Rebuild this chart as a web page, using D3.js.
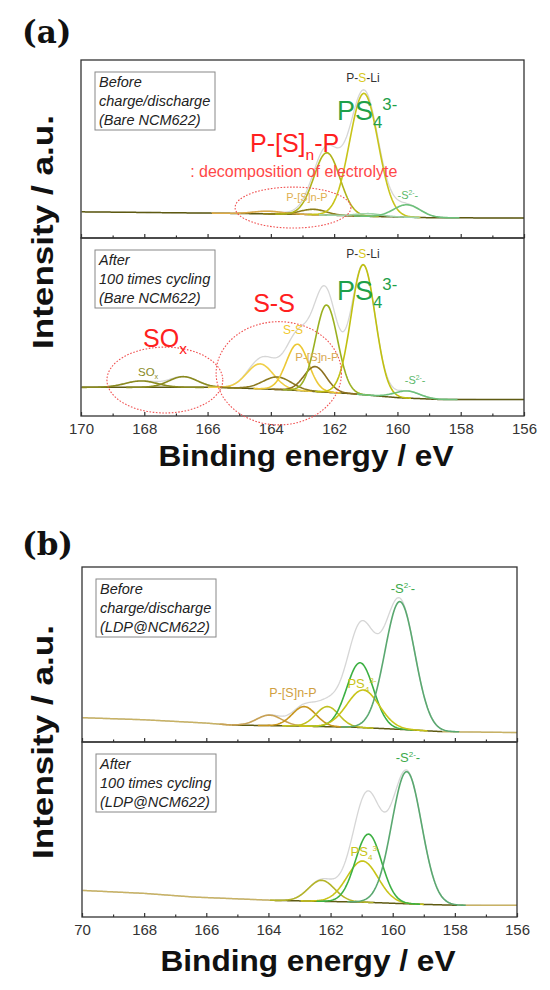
<!DOCTYPE html>
<html lang="en">
<head>
<meta charset="UTF-8">
<script src="https://d3js.org/d3.v7.min.js"></script>
<title>S 2p XPS</title>
<style>
  body { margin: 0; background: #fff; }
  text { font-family: "Liberation Sans", Arial, sans-serif; }
</style>
</head>
<body>
<script>

// binding energy ticks
var majorTicks = [170, 168, 166, 164, 162, 160, 158, 156];
var minorTicks = [169, 167, 165, 163, 161, 159, 157];
var tickLabelsA = ["170", "168", "166", "164", "162", "160", "158", "156"];
var tickLabelsB = ["70", "168", "166", "164", "162", "160", "158", "156"];

// background lines: [BE, intensity]
var bgA1 = [[170, 0.147], [166, 0.14], [163, 0.133], [161, 0.122], [159, 0.114], [156, 0.112]];
var bgA2 = [[170, 0.161], [165.6, 0.161], [163.5, 0.147], [161.5, 0.126], [160, 0.103], [158.7, 0.093], [156, 0.092]];
var bgB1 = [[170, 0.139], [168, 0.127], [166, 0.108], [165.2, 0.097], [163, 0.091], [161.2, 0.084], [159.5, 0.07], [158.4, 0.059], [156, 0.054]];
var bgB2 = [[170, 0.152], [168, 0.135], [166.4, 0.114], [163.8, 0.095], [161, 0.085], [159, 0.072], [157.9, 0.067], [156, 0.067]];

// fitted range of the background
var fitA1 = [170, 156];
var fitA2 = [170, 156];
var fitB1 = [165.2, 158.4];
var fitB2 = [163.8, 157.9];

// fitted components: [centre BE, height above background, sigma]
var peaksA1 = [[164.1, 0.015, 0.45], [162.65, 0.03, 0.4], [162.23, 0.35, 0.41], [161.06, 0.69, 0.45], [160.9, 0.015, 0.4], [159.7, 0.07, 0.42]];
var peaksA2 = [[168.1, 0.036, 0.5], [166.77, 0.06, 0.45], [164.34, 0.14, 0.42], [163.8, 0.07, 0.45], [163.16, 0.26, 0.35], [162.6, 0.14, 0.35], [162.24, 0.49, 0.35], [161.08, 0.73, 0.38], [159.7, 0.04, 0.4]];
var peaksB1 = [[163.97, 0.06, 0.4], [162.85, 0.112, 0.38], [162.1, 0.115, 0.37], [161.05, 0.37, 0.43], [160.95, 0.215, 0.52], [159.77, 0.73, 0.48]];
var peaksB2 = [[162.29, 0.12, 0.42], [160.97, 0.235, 0.5], [160.78, 0.39, 0.42], [159.55, 0.755, 0.48]];

// sample notes
var notesA1 = ["Before", "charge/discharge", "(Bare NCM622)"];
var notesA2 = ["After", "100 times cycling", "(Bare NCM622)"];
var notesB1 = ["Before", "charge/discharge", "(LDP@NCM622)"];
var notesB2 = ["After", "100 times cycling", "(LDP@NCM622)"];

// colours of components (same order as peaks)
var coloursA1 = ["#dcaa48", "#8c7d1a", "#b0b31a", "#c8c41a", "#9fd3a8", "#6cc07a"];
var coloursA2 = ["#8a8a1e", "#8a8a1e", "#f0cf48", "#8c7a20", "#ecc835", "#8c7020", "#9ab020", "#c0c010", "#6cc07a"];
var coloursB1 = ["#c9a255", "#c8961e", "#c0c020", "#3cb043", "#c8c418", "#5aa870"];
var coloursB2 = ["#b4b428", "#c8c418", "#3cb043", "#5aa870"];

var RED = "#ff2020";
var GREEN = "#1fa04a";

var svg = d3.select("body").append("svg")
  .attr("width", 550)
  .attr("height", 990);

// multi-part text with sub/superscripts
function richText(g, x, y, parts, size, fill, anchor) {
  var t = g.append("text")
    .attr("x", x).attr("y", y)
    .attr("font-size", size)
    .attr("fill", fill)
    .attr("text-anchor", anchor || "start");
  var shift = 0;
  parts.forEach(function(p) {
    var s = p[1] === "sub" ? size * 0.3 : p[1] === "sup" ? -size * 0.36 : 0;
    t.append("tspan")
      .attr("dy", s - shift)
      .attr("font-size", p[1] ? size * 0.62 : size)
      .attr("fill", p[2] || fill)
      .text(p[0]);
    shift = s;
  });
  return t;
}

function drawPlot(o) {
  var g = svg.append("g");
  var x = d3.scaleLinear().domain([170, 156]).range([o.left, o.right]);
  var y = d3.scaleLinear().domain([0, 1]).range([o.bottom, o.top]);
  var bg = d3.scaleLinear().domain(o.bg.map(function(d) { return d[0]; }))
    .range(o.bg.map(function(d) { return d[1]; }));
  var line = d3.line().x(function(d) { return x(d[0]); }).y(function(d) { return y(d[1]); });
  var gauss = function(p, e) { return p[1] * Math.exp(-(e - p[0]) * (e - p[0]) / (2 * p[2] * p[2])); };

  var energies = d3.range(156, 170.0001, 0.03);

  // note box
  var box = g.append("g").attr("transform", "translate(" + (o.left + 14) + "," + (o.top + 12) + ")");
  box.append("rect").attr("width", 120).attr("height", 58)
    .attr("fill", "#fff").attr("stroke", "#888").attr("stroke-width", 1);
  o.notes.forEach(function(s, i) {
    box.append("text").attr("x", 4).attr("y", 15 + i * 19)
      .attr("font-size", 14.5).attr("font-style", "italic").attr("fill", "#222").text(s);
  });

  // envelope (raw data)
  var env = energies.map(function(e) {
    return [e, bg(e) + d3.sum(o.peaks, function(p) { return gauss(p, e); })];
  });
  g.append("path").attr("d", line(env)).attr("fill", "none")
    .attr("stroke", "#d6d6d6").attr("stroke-width", 1.3);

  // background
  var left = energies.filter(function(e) { return e >= o.fit[0]; }).map(function(e) { return [e, bg(e)]; });
  var right = energies.filter(function(e) { return e <= o.fit[1]; }).map(function(e) { return [e, bg(e)]; });
  [left, right].forEach(function(seg) {
    if (seg.length > 1) g.append("path").attr("d", line(seg)).attr("fill", "none")
      .attr("stroke", "#c8b265").attr("stroke-width", 1.5);
  });
  var inside = energies.filter(function(e) { return e <= o.fit[0] && e >= o.fit[1]; })
    .map(function(e) { return [e, bg(e)]; });
  g.append("path").attr("d", line(inside)).attr("fill", "none")
    .attr("stroke", "#5e5a12").attr("stroke-width", 1.5);

  // components
  o.peaks.forEach(function(p, i) {
    var pts = energies.filter(function(e) { return Math.abs(e - p[0]) < 4 * p[2]; })
      .map(function(e) { return [e, bg(e) + gauss(p, e)]; });
    g.append("path").attr("d", line(pts)).attr("fill", "none")
      .attr("stroke", o.colours[i]).attr("stroke-width", 1.6);
  });

  // frame
  g.append("rect").attr("x", o.left).attr("y", o.top)
    .attr("width", o.right - o.left).attr("height", o.bottom - o.top)
    .attr("fill", "none").attr("stroke", "#333").attr("stroke-width", 1.3);

  // axis ticks (inward)
  var axis = d3.axisBottom(x).tickValues(majorTicks).tickSizeInner(-4).tickSizeOuter(0).tickPadding(7)
    .tickFormat(function(d, i) { return o.labels ? o.labels[i] : ""; });
  var ax = g.append("g").attr("transform", "translate(0," + o.bottom + ")").call(axis);
  ax.select(".domain").remove();
  ax.selectAll("text").attr("font-size", 15).attr("fill", "#333")
    .attr("font-family", "'Liberation Sans', Arial, sans-serif");
  var minor = d3.axisBottom(x).tickValues(minorTicks).tickSizeInner(-2.5).tickSizeOuter(0).tickFormat("");
  var mx = g.append("g").attr("transform", "translate(0," + o.bottom + ")").call(minor);
  mx.select(".domain").remove();
  g.selectAll(".tick line").attr("stroke", "#333").attr("stroke-width", 1.2);

  return { g: g, x: x, y: y };
}

function ellipse(p, be, v, rxBE, ry) {
  p.g.append("ellipse")
    .attr("cx", p.x(be)).attr("cy", p.y(v))
    .attr("rx", Math.abs(p.x(be + rxBE) - p.x(be))).attr("ry", Math.abs(p.y(ry) - p.y(0)))
    .attr("fill", "none").attr("stroke", "#f05050").attr("stroke-width", 1.1)
    .attr("stroke-dasharray", "1.6,1.6");
}

// ---------- panel (a) ----------
var a1 = drawPlot({ left: 81, right: 524, top: 60, bottom: 238, bg: bgA1, fit: fitA1, peaks: peaksA1, colours: coloursA1, notes: notesA1 });
var a2 = drawPlot({ left: 81, right: 524, top: 238, bottom: 416, bg: bgA2, fit: fitA2, peaks: peaksA2, colours: coloursA2, notes: notesA2, labels: tickLabelsA });

ellipse(a1, 163.3, 0.171, 1.83, 0.115);
richText(a1.g, a1.x(161.09), a1.y(0.876), [["P-"], ["S", null, "#d8c820"], ["-Li"]], 12, "#333", "middle");
richText(a1.g, a1.x(161.91), a1.y(0.663), [["PS"], ["4", "sub"], ["3-", "sup"]], 27, GREEN);
richText(a1.g, a1.x(164.66), a1.y(0.483), [["P-[S]"], ["n", "sub"], ["-P"]], 25, RED);
richText(a1.g, a1.x(166.55), a1.y(0.343), [[": decomposition of electrolyte"]], 16, "#ff4848");
richText(a1.g, a1.x(162.86), a1.y(0.208), [["P-[S]n-P"]], 11, "#e0b050", "middle");
richText(a1.g, a1.x(159.67), a1.y(0.219), [["-S"], ["2-", "sup"], ["-"]], 11, "#5cb86a", "middle");

ellipse(a2, 167.35, 0.202, 1.83, 0.185);
ellipse(a2, 163.75, 0.24, 1.98, 0.29);
richText(a2.g, a2.x(161.09), a2.y(0.888), [["P-"], ["S", null, "#d8c820"], ["-Li"]], 12, "#333", "middle");
richText(a2.g, a2.x(161.91), a2.y(0.652), [["PS"], ["4", "sub"], ["3-", "sup"]], 27, GREEN);
richText(a2.g, a2.x(163.9), a2.y(0.584), [["S-S"]], 25, RED, "middle");
richText(a2.g, a2.x(168.04), a2.y(0.388), [["SO"], ["x", "sub"]], 25, RED);
richText(a2.g, a2.x(167.88), a2.y(0.225), [["SO"], ["x", "sub"]], 11.5, "#8a8a1e", "middle");
richText(a2.g, a2.x(163.3), a2.y(0.461), [["S-S"]], 12, "#f0c830", "middle");
richText(a2.g, a2.x(162.54), a2.y(0.309), [["P-[S]n-P"]], 11.5, "#d8a850", "middle");
richText(a2.g, a2.x(159.44), a2.y(0.18), [["-S"], ["2-", "sup"], ["-"]], 11, "#5cb86a", "middle");

// ---------- panel (b) ----------
var b1 = drawPlot({ left: 82, right: 517, top: 567, bottom: 742, bg: bgB1, fit: fitB1, peaks: peaksB1, colours: coloursB1, notes: notesB1 });
var b2 = drawPlot({ left: 82, right: 517, top: 742, bottom: 917, bg: bgB2, fit: fitB2, peaks: peaksB2, colours: coloursB2, notes: notesB2, labels: tickLabelsB });

richText(b1.g, b1.x(159.67), b1.y(0.851), [["-S"], ["2-", "sup"], ["-"]], 13, "#3caa4a", "middle");
richText(b1.g, b1.x(163.21), b1.y(0.257), [["P-[S]n-P"]], 12.5, "#d0a040", "middle");
richText(b1.g, b1.x(160.99), b1.y(0.309), [["PS"], ["4", "sub"], ["3-", "sup"]], 13, "#c8c418", "middle");
richText(b2.g, b2.x(159.51), b2.y(0.886), [["-S"], ["2-", "sup"], ["-"]], 13, "#3caa4a", "middle");
richText(b2.g, b2.x(160.89), b2.y(0.349), [["PS"], ["4", "sub"], ["3-", "sup"]], 13, "#c8c418", "middle");

// ---------- titles ----------
svg.append("text").attr("x", 22).attr("y", 43).attr("font-size", 31).attr("font-weight", "bold")
  .style("font-family", "'DejaVu Serif', 'Liberation Serif', serif").attr("fill", "#111").text("(a)");
svg.append("text").attr("x", 22).attr("y", 555).attr("font-size", 31).attr("font-weight", "bold")
  .style("font-family", "'DejaVu Serif', 'Liberation Serif', serif").attr("fill", "#111").text("(b)");

[[306, 466], [308, 971]].forEach(function(p) {
  svg.append("text").attr("x", p[0]).attr("y", p[1]).attr("text-anchor", "middle")
    .attr("font-size", 29).attr("font-weight", "bold").attr("fill", "#111")
    .attr("textLength", 295).attr("lengthAdjust", "spacingAndGlyphs").text("Binding energy / eV");
});
[[53, 232], [53, 742]].forEach(function(p) {
  svg.append("text").attr("transform", "translate(" + p[0] + "," + p[1] + ") rotate(-90)")
    .attr("text-anchor", "middle").attr("font-size", 29).attr("font-weight", "bold")
    .attr("fill", "#111").attr("textLength", 234).attr("lengthAdjust", "spacingAndGlyphs")
    .text("Intensity / a.u.");
});

</script>
</body>
</html>
